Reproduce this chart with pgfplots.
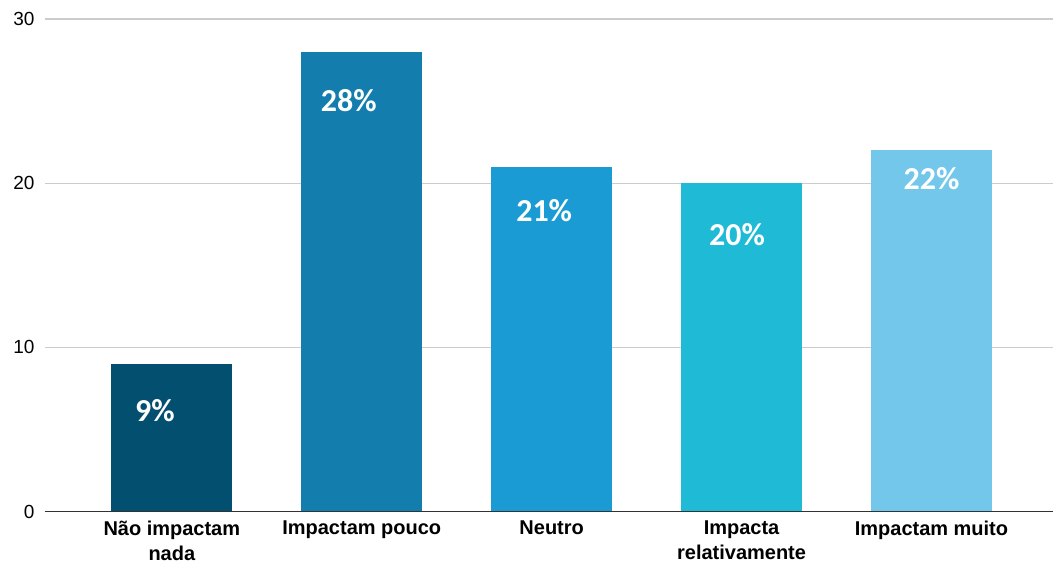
\documentclass[border=0pt]{standalone}
\usepackage{pgfplots}
\pgfplotsset{compat=1.18}
\usepackage{fontspec}
\setmainfont{Liberation Sans}
\newfontfamily\carlito{Carlito}
\definecolor{c1}{HTML}{034F70}
\definecolor{c2}{HTML}{137DAD}
\definecolor{c3}{HTML}{1A9BD3}
\definecolor{c4}{HTML}{1FBAD6}
\definecolor{c5}{HTML}{72C7EB}
\definecolor{gridc}{HTML}{CCCCCC}
\begin{document}
\begin{tikzpicture}
\begin{axis}[
  scale only axis,
  width=1009bp, height=493bp,
  xmin=-0.668, xmax=4.642,
  ymin=0, ymax=30,
  ytick={0,10,20,30},
  xtick={0,1,2,3,4},
  xticklabels={{Não impactam\\nada},{Impactam pouco},{Neutro},{Impacta\\relativamente},{Impactam muito}},
  xticklabel style={align=center, font=\fontsize{20bp}{25bp}\selectfont\bfseries, anchor=north, yshift=-6bp},
  yticklabel style={font=\fontsize{19bp}{23bp}\selectfont, xshift=-7bp},
  /pgf/number format/assume math mode=true,
  axis line style={draw=none},
  major tick length=0pt,
  ymajorgrids,
  grid style={gridc, line width=1.2bp},
  ybar, bar width=0.637, bar shift=0pt,
  nodes near coords={\pgfmathprintnumber{\pgfplotspointmeta}\%},
  every node near coord/.append style={font=\carlito\fontsize{32bp}{32bp}\selectfont\bfseries, text=white, anchor=center},
  clip=false,
]
\addplot[fill=c1, draw=none, every node near coord/.append style={yshift=-47bp, xshift=-17bp}] coordinates {(0,9)};
\addplot[fill=c2, draw=none, every node near coord/.append style={yshift=-49bp, xshift=-13bp}] coordinates {(1,28)};
\addplot[fill=c3, draw=none, every node near coord/.append style={yshift=-44bp, xshift=-7.5bp}] coordinates {(2,21)};
\addplot[fill=c4, draw=none, every node near coord/.append style={yshift=-51bp, xshift=-4.5bp}] coordinates {(3,20)};
\addplot[fill=c5, draw=none, every node near coord/.append style={yshift=-28bp}] coordinates {(4,22)};
\draw[color=black!80, line width=1.2bp] (axis cs:-0.668,0) -- (axis cs:4.642,0);
\end{axis}
\path (-45bp,-54bp) rectangle (1009bp,512bp);
\end{tikzpicture}
\end{document}
